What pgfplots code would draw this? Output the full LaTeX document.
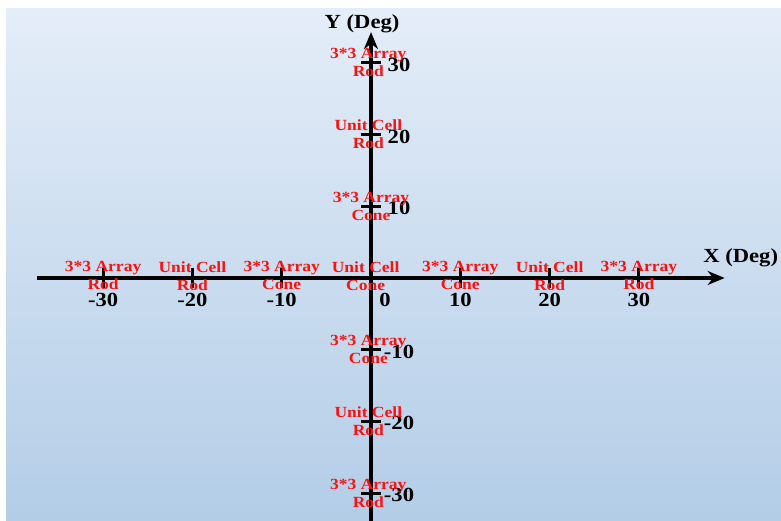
\documentclass[border=0pt]{standalone}
\usepackage{pgfplots}
\pgfplotsset{compat=1.18}
\usepackage{fontspec}
\setmainfont{Liberation Serif}
\newfontfamily\tnr[FakeStretch=1.13]{Liberation Serif}
\usetikzlibrary{arrows.meta}
\definecolor{bgtop}{HTML}{E4EDF8}
\definecolor{bgbot}{HTML}{B3CDE7}
\definecolor{lab}{HTML}{FF1010}
\begin{document}
\begin{tikzpicture}
\fill[white] (0,0) rectangle (781pt,520pt);
\shade[top color=bgtop, bottom color=bgbot] (6pt,0) rectangle (781pt,511pt);
\useasboundingbox (0,0) rectangle (781pt,520pt);
\begin{axis}[
  at={(371pt,242pt)}, anchor=origin,
  x=8.93pt, y=7.17pt,
  xmin=-37.4, xmax=39.6, ymin=-34.2, ymax=34.3,
  axis lines=middle,
  axis line style={line width=3.8pt, -{Stealth[length=17pt,width=14pt]}},
  clip=false,
  xtick={-30,-20,-10,10,20,30},
  ytick={-30,-20,-10,10,20,30},
  extra x ticks={0},
  extra x tick style={xticklabel style={xshift=14pt}},
  major tick length=20pt,
  tick align=center,
  tick style={line width=3pt, black},
  /pgf/number format/assume math mode=true,
  ticklabel style={font=\tnr\bfseries\fontsize{20}{21}\selectfont, text=black},
  xticklabel style={anchor=center, yshift=-12pt},
  yticklabel style={anchor=center, xshift=38pt, yshift=-2pt},
  xlabel={X (Deg)}, ylabel={Y (Deg)},
  every axis x label/.style={at={(axis cs:41.4,2.8)}, anchor=center, font=\tnr\bfseries\fontsize{20}{22}\selectfont},
  every axis y label/.style={at={(axis cs:-1.0,35.4)}, anchor=center, font=\tnr\bfseries\fontsize{20}{22}\selectfont},
]
\addplot[draw=none, mark=none, nodes near coords, point meta=explicit symbolic,
  every node near coord/.append style={anchor=center, align=center, text=lab, inner sep=0pt,
    font=\tnr\bfseries\fontsize{15.5}{18}\selectfont}]
  coordinates {
    (-30,0.3) [{3*3 Array\\Rod}]
    (-20,0.3) [{Unit Cell\\Rod}]
    (-10,0.3) [{3*3 Array\\Cone}]
    (-0.6,0.3) [{Unit Cell\\Cone}]
    (10,0.3) [{3*3 Array\\Cone}]
    (20,0.3) [{Unit Cell\\Rod}]
    (30,0.3) [{3*3 Array\\Rod}]
    (-0.3,30) [{3*3 Array\\Rod}]
    (-0.3,20) [{Unit Cell\\Rod}]
    (0,10) [{3*3 Array\\Cone}]
    (-0.3,-10) [{3*3 Array\\Cone}]
    (-0.3,-20) [{Unit Cell\\Rod}]
    (-0.3,-30) [{3*3 Array\\Rod}]
  };
\end{axis}
\end{tikzpicture}
\end{document}
